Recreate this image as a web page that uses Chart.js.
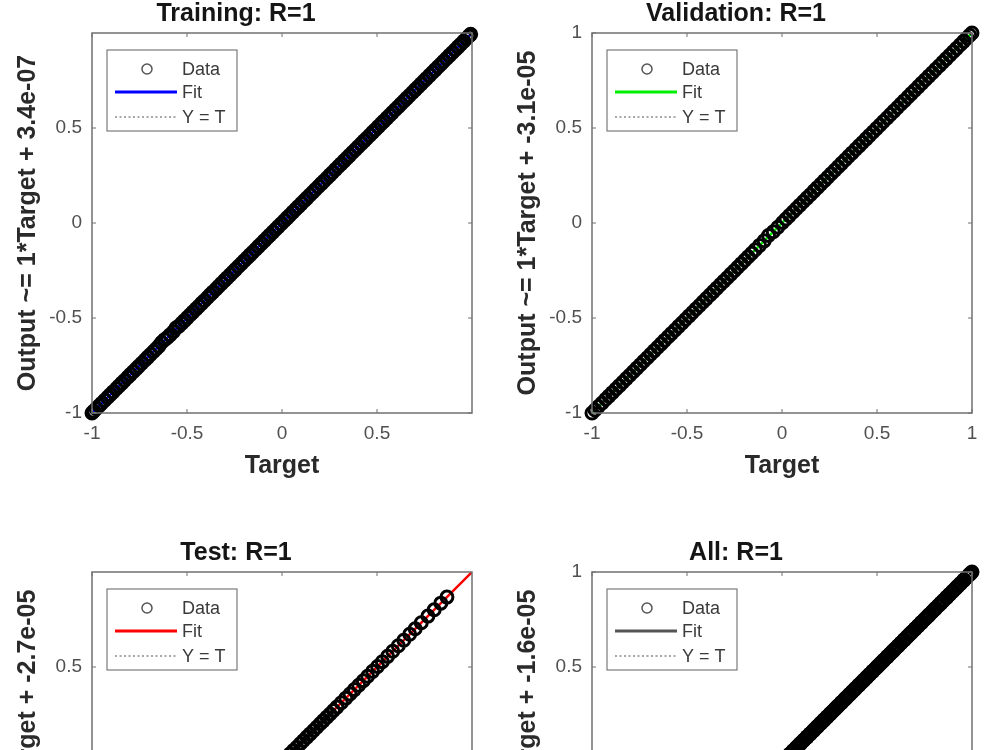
<!DOCTYPE html>
<html>
<head>
<meta charset="utf-8">
<script src="https://cdn.jsdelivr.net/npm/chart.js@4.4.0/dist/chart.umd.min.js"></script>
<style>
  html, body { margin: 0; padding: 0; background: #ffffff; width: 1000px; height: 750px; overflow: hidden; }
  .panel { position: absolute; width: 500px; height: 500px; }
</style>
</head>
<body>
<div class="panel" style="left:0px;top:0px;"><canvas id="c0" width="500" height="500"></canvas></div>
<div class="panel" style="left:500px;top:0px;"><canvas id="c1" width="500" height="500"></canvas></div>
<div class="panel" style="left:0px;top:539px;"><canvas id="c2" width="500" height="500"></canvas></div>
<div class="panel" style="left:500px;top:539px;"><canvas id="c3" width="500" height="500"></canvas></div>
<script>
// ---------- data ----------
const trainingTarget = [
  -1.000,-0.991,-0.978,-0.962,-0.949,-0.933,-0.917,-0.904,-0.889,-0.871,
  -0.858,-0.843,-0.829,-0.812,-0.798,-0.783,-0.767,-0.754,-0.738,-0.721,
  -0.707,-0.692,-0.676,-0.663,-0.648,-0.634,-0.618,-0.603,-0.589,-0.572,
  -0.558,-0.543,-0.527,-0.514,-0.498,-0.483,-0.469,-0.452,-0.438,-0.423,
  -0.409,-0.392,-0.378,-0.364,-0.347,-0.333,-0.318,-0.302,-0.289,-0.273,
  -0.258,-0.244,-0.228,-0.213,-0.199,-0.183,-0.168,-0.154,-0.138,-0.123,
  -0.109,-0.093,-0.078,-0.064,-0.048,-0.033,-0.019,-0.004,0.012,0.027,
  0.041,0.057,0.072,0.086,0.102,0.117,0.131,0.147,0.162,0.176,
  0.192,0.207,0.221,0.237,0.252,0.266,0.282,0.297,0.311,0.327,
  0.342,0.356,0.372,0.387,0.401,0.417,0.432,0.446,0.462,0.477,
  0.491,0.507,0.522,0.536,0.552,0.567,0.581,0.597,0.612,0.626,
  0.642,0.657,0.671,0.687,0.702,0.716,0.732,0.747,0.761,0.777,
  0.792,0.806,0.822,0.837,0.851,0.867,0.882,0.896,0.912,0.927,
  0.941,0.957,0.972,0.984,0.993
];
const trainingOutput = [
  -1.000,-0.991,-0.978,-0.962,-0.949,-0.933,-0.917,-0.904,-0.889,-0.871,
  -0.858,-0.843,-0.829,-0.812,-0.798,-0.783,-0.767,-0.754,-0.738,-0.721,
  -0.707,-0.692,-0.676,-0.663,-0.648,-0.629,-0.614,-0.603,-0.589,-0.572,
  -0.553,-0.543,-0.527,-0.514,-0.498,-0.483,-0.469,-0.452,-0.438,-0.423,
  -0.409,-0.392,-0.378,-0.364,-0.347,-0.333,-0.318,-0.302,-0.289,-0.273,
  -0.258,-0.244,-0.228,-0.213,-0.199,-0.183,-0.168,-0.154,-0.138,-0.123,
  -0.109,-0.093,-0.078,-0.064,-0.048,-0.033,-0.019,-0.004,0.012,0.027,
  0.041,0.057,0.072,0.086,0.102,0.117,0.131,0.147,0.162,0.176,
  0.192,0.207,0.221,0.237,0.252,0.266,0.282,0.297,0.311,0.327,
  0.342,0.356,0.372,0.387,0.401,0.417,0.432,0.446,0.462,0.477,
  0.491,0.507,0.522,0.536,0.552,0.567,0.581,0.597,0.612,0.626,
  0.642,0.657,0.671,0.687,0.702,0.716,0.732,0.747,0.761,0.777,
  0.792,0.806,0.822,0.837,0.851,0.867,0.882,0.896,0.912,0.927,
  0.941,0.957,0.972,0.984,0.993
];
const validationTarget = [
  -1.000,-0.984,-0.966,-0.947,-0.928,-0.911,-0.893,-0.874,-0.856,-0.838,
  -0.819,-0.801,-0.783,-0.764,-0.746,-0.728,-0.709,-0.691,-0.673,-0.654,
  -0.636,-0.618,-0.599,-0.581,-0.563,-0.544,-0.526,-0.508,-0.489,-0.471,
  -0.453,-0.434,-0.416,-0.398,-0.379,-0.361,-0.343,-0.324,-0.306,-0.288,
  -0.269,-0.251,-0.233,-0.214,-0.196,-0.178,-0.159,-0.141,-0.118,-0.094,
  -0.071,-0.046,-0.022,0.003,0.021,0.039,0.058,0.076,0.094,0.113,
  0.131,0.149,0.168,0.186,0.204,0.223,0.241,0.259,0.278,0.296,
  0.314,0.333,0.351,0.369,0.388,0.406,0.424,0.443,0.461,0.479,
  0.498,0.516,0.534,0.553,0.571,0.589,0.608,0.626,0.644,0.663,
  0.681,0.699,0.718,0.736,0.754,0.773,0.791,0.809,0.828,0.846,
  0.864,0.883,0.901,0.919,0.938,0.956,0.974,0.988,1.000
];
const validationOutput = [
  -1.000,-0.984,-0.966,-0.947,-0.928,-0.911,-0.893,-0.874,-0.856,-0.838,
  -0.819,-0.801,-0.783,-0.764,-0.746,-0.728,-0.709,-0.691,-0.673,-0.654,
  -0.636,-0.618,-0.599,-0.581,-0.563,-0.544,-0.526,-0.508,-0.489,-0.471,
  -0.453,-0.434,-0.416,-0.398,-0.379,-0.361,-0.343,-0.324,-0.306,-0.288,
  -0.269,-0.251,-0.233,-0.214,-0.196,-0.178,-0.159,-0.141,-0.118,-0.094,
  -0.066,-0.046,-0.022,0.003,0.021,0.039,0.058,0.076,0.094,0.113,
  0.131,0.149,0.168,0.186,0.204,0.223,0.241,0.259,0.278,0.296,
  0.314,0.333,0.351,0.369,0.388,0.406,0.424,0.443,0.461,0.479,
  0.498,0.516,0.534,0.553,0.571,0.589,0.608,0.626,0.644,0.663,
  0.681,0.699,0.718,0.736,0.754,0.773,0.791,0.809,0.828,0.846,
  0.864,0.883,0.901,0.919,0.938,0.956,0.974,0.988,1.000
];
const testTarget = [
  -1.000,-0.978,-0.955,-0.931,-0.908,-0.884,-0.861,-0.837,-0.814,-0.790,
  -0.767,-0.743,-0.720,-0.696,-0.673,-0.649,-0.626,-0.602,-0.579,-0.555,
  -0.532,-0.508,-0.485,-0.461,-0.438,-0.414,-0.391,-0.367,-0.344,-0.320,
  -0.297,-0.273,-0.250,-0.226,-0.203,-0.179,-0.156,-0.132,-0.109,-0.085,
  -0.062,-0.038,-0.015,0.008,0.026,0.043,0.061,0.078,0.096,0.113,
  0.131,0.148,0.166,0.183,0.201,0.218,0.236,0.253,0.271,0.289,
  0.312,0.336,0.358,0.381,0.404,0.428,0.451,0.477,0.503,0.528,
  0.556,0.583,0.612,0.641,0.672,0.701,0.733,0.768,0.801,0.836,
  0.868
];
const testOutput = [
  -1.000,-0.978,-0.955,-0.931,-0.908,-0.884,-0.861,-0.837,-0.814,-0.790,
  -0.767,-0.743,-0.720,-0.696,-0.673,-0.649,-0.626,-0.602,-0.579,-0.555,
  -0.532,-0.508,-0.485,-0.461,-0.438,-0.414,-0.391,-0.367,-0.344,-0.320,
  -0.297,-0.273,-0.250,-0.226,-0.203,-0.179,-0.156,-0.132,-0.109,-0.085,
  -0.062,-0.038,-0.015,0.008,0.026,0.043,0.061,0.078,0.096,0.113,
  0.131,0.148,0.166,0.183,0.201,0.218,0.236,0.253,0.271,0.289,
  0.312,0.336,0.358,0.381,0.404,0.428,0.451,0.477,0.503,0.528,
  0.556,0.583,0.612,0.641,0.672,0.701,0.733,0.768,0.801,0.836,
  0.868
];
// "All" is the union of the three subsets
const allTarget = [...trainingTarget, ...validationTarget, ...testTarget];
const allOutput = [...trainingOutput, ...validationOutput, ...testOutput];

// fit lines and the Y = T reference line (end points)
const lineTarget = [-1, 1];
const trainingFit = [-1, 1];
const validationFit = [-1, 1];
const testFit = [-1, 1];
const allFit = [-1, 1];
const identityLine = [-1, 1];

// tick labels
const trainingTicks = [-1, -0.5, 0, 0.5];
const validationTicks = [-1, -0.5, 0, 0.5, 1];
const testTicks = [-1, -0.5, 0, 0.5];
const allTicks = [-1, -0.5, 0, 0.5, 1];

// texts
const panelTitles = ['Training: R=1', 'Validation: R=1', 'Test: R=1', 'All: R=1'];
const yAxisTitles = [
  'Output ~= 1*Target + 3.4e-07',
  'Output ~= 1*Target + -3.1e-05',
  'Output ~= 1*Target + -2.7e-05',
  'Output ~= 1*Target + -1.6e-05'
];
const xAxisTitle = 'Target';
const legendLabels = ['Data', 'Fit', 'Y = T'];
const fitColors = ['#0000ff', '#00ee00', '#ff0000', '#555555'];

// ---------- drawing ----------
const FONT = "'Liberation Sans', Arial, Helvetica, sans-serif";
const BOX = '#707070';

const pairs = (t, o) => t.map((v, i) => ({ x: v, y: o[i] }));

const boxPlugin = {
  id: 'matlabBox',
  afterDatasetsDraw(chart) {
    const { ctx, chartArea: a, scales } = chart;
    ctx.save();
    ctx.strokeStyle = BOX;
    ctx.lineWidth = 1.5;
    ctx.strokeRect(a.left, a.top, a.right - a.left, a.bottom - a.top);
    ctx.lineWidth = 1;
    const L = 4;
    scales.x.ticks.forEach(t => {
      const px = scales.x.getPixelForValue(t.value);
      ctx.beginPath();
      ctx.moveTo(px, a.bottom); ctx.lineTo(px, a.bottom - L);
      ctx.moveTo(px, a.top); ctx.lineTo(px, a.top + L);
      ctx.stroke();
    });
    scales.y.ticks.forEach(t => {
      const py = scales.y.getPixelForValue(t.value);
      ctx.beginPath();
      ctx.moveTo(a.left, py); ctx.lineTo(a.left + L, py);
      ctx.moveTo(a.right, py); ctx.lineTo(a.right - L, py);
      ctx.stroke();
    });
    // legend
    const ds = chart.data.datasets;
    const bx = a.left + 15, by = a.top + 17, bw = 130, bh = 81;
    ctx.fillStyle = '#ffffff';
    ctx.fillRect(bx, by, bw, bh);
    ctx.strokeStyle = '#7a7a7a';
    ctx.lineWidth = 1.2;
    ctx.strokeRect(bx, by, bw, bh);
    const rows = [by + 19, by + 42, by + 67];
    ctx.strokeStyle = '#555555';
    ctx.lineWidth = 1.5;
    ctx.beginPath();
    ctx.arc(bx + 40, rows[0], 5, 0, Math.PI * 2);
    ctx.stroke();
    ctx.strokeStyle = ds[1].borderColor;
    ctx.lineWidth = 3;
    ctx.beginPath();
    ctx.moveTo(bx + 8, rows[1]); ctx.lineTo(bx + 70, rows[1]);
    ctx.stroke();
    ctx.strokeStyle = '#8a8a8a';
    ctx.lineWidth = 1.3;
    ctx.setLineDash([2, 2.5]);
    ctx.beginPath();
    ctx.moveTo(bx + 8, rows[2]); ctx.lineTo(bx + 70, rows[2]);
    ctx.stroke();
    ctx.setLineDash([]);
    ctx.fillStyle = '#3a3a3a';
    ctx.font = '18px ' + FONT;
    ctx.textAlign = 'left';
    ctx.textBaseline = 'middle';
    ds.forEach((d, i) => ctx.fillText(d.label, bx + 75, rows[i] + 1));
    ctx.restore();
  }
};

function makePanel(id, idx, target, output, fit, ticks) {
  const setTicks = arr => scale => { scale.ticks = arr.map(v => ({ value: v })); };
  new Chart(document.getElementById(id), {
    type: 'scatter',
    data: {
      datasets: [
        {
          label: legendLabels[0],
          data: pairs(target, output),
          showLine: false,
          pointStyle: 'circle',
          pointRadius: 6,
          pointBorderWidth: 3,
          pointBorderColor: '#000000',
          pointBackgroundColor: 'rgba(0,0,0,0)',
          borderColor: '#000000',
          clip: false,
          order: 0
        },
        {
          label: legendLabels[1],
          data: pairs(lineTarget, fit),
          showLine: true,
          borderColor: fitColors[idx],
          borderWidth: 2.5,
          pointRadius: 0,
          order: 1
        },
        {
          label: legendLabels[2],
          data: pairs(lineTarget, identityLine),
          showLine: true,
          borderColor: '#666666',
          borderWidth: 1,
          borderDash: [2, 3],
          pointRadius: 0,
          order: 2
        }
      ]
    },
    options: {
      responsive: false,
      animation: false,
      events: [],
      layout: { padding: { left: 0, right: 28, top: 0, bottom: 0 } },
      plugins: {
        legend: { display: false },
        tooltip: { enabled: false },
        title: {
          display: true,
          text: panelTitles[idx],
          color: '#151515',
          font: { family: FONT, size: 25, weight: 'bold', lineHeight: 1 },
          padding: { top: 2, bottom: 6 }
        }
      },
      scales: {
        x: {
          type: 'linear',
          min: -1, max: 1,
          afterBuildTicks: setTicks(ticks),
          afterFit: s => { s.height = 87; },
          grid: { display: false, drawTicks: false },
          border: { display: false },
          ticks: {
            color: '#505050',
            padding: 9,
            font: { family: FONT, size: 19, lineHeight: 1.2 },
            maxRotation: 0,
            callback: v => String(v)
          },
          title: {
            display: true,
            text: xAxisTitle,
            color: '#2a2a2a',
            font: { family: FONT, size: 25, weight: 'bold', lineHeight: 1.2 },
            padding: { top: 0, bottom: 19 }
          }
        },
        y: {
          type: 'linear',
          min: -1, max: 1,
          afterBuildTicks: setTicks(ticks),
          afterFit: s => { s.width = 92; },
          grid: { display: false, drawTicks: false },
          border: { display: false },
          ticks: {
            color: '#505050',
            padding: 10,
            font: { family: FONT, size: 19, lineHeight: 1.2 },
            callback: v => String(v)
          },
          title: {
            display: true,
            text: yAxisTitles[idx],
            color: '#2a2a2a',
            font: { family: FONT, size: 25, weight: 'bold', lineHeight: 1.2 },
            padding: { top: 13, bottom: 0 }
          }
        }
      }
    },
    plugins: [boxPlugin]
  });
}

makePanel('c0', 0, trainingTarget, trainingOutput, trainingFit, trainingTicks);
makePanel('c1', 1, validationTarget, validationOutput, validationFit, validationTicks);
makePanel('c2', 2, testTarget, testOutput, testFit, testTicks);
makePanel('c3', 3, allTarget, allOutput, allFit, allTicks);
</script>
</body>
</html>
